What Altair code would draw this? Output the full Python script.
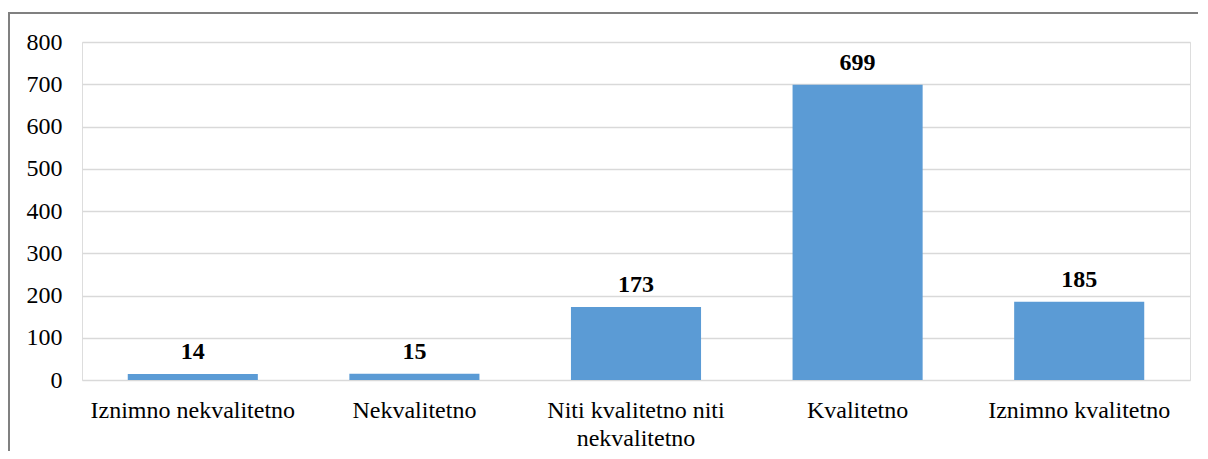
import altair as alt
import pandas as pd

categories = ["Iznimno nekvalitetno", "Nekvalitetno", "Niti kvalitetno niti nekvalitetno", "Kvalitetno", "Iznimno kvalitetno"]
values = [14, 15, 173, 699, 185]
y_ticks = [0, 100, 200, 300, 400, 500, 600, 700, 800]

df = pd.DataFrame({"cat": categories, "val": values})

FONT = "Liberation Serif, Times New Roman, DejaVu Serif, serif"
FS = 24
W, H = 1108, 338

x_enc = alt.X("cat:N", sort=categories, title=None,
              scale=alt.Scale(paddingInner=0.413, paddingOuter=0.2065),
              axis=alt.Axis(labelAngle=0, ticks=False, domain=False, labelFont=FONT,
                            labelFontSize=FS, labelColor="#000000", labelPadding=18,
                            labelLineHeight=28, labelLimit=400,
                            labelExpr="datum.label == 'Niti kvalitetno niti nekvalitetno' ? ['Niti kvalitetno niti', 'nekvalitetno'] : datum.label"))
y_enc = alt.Y("val:Q", title=None,
              scale=alt.Scale(domain=[0, 800], nice=False),
              axis=alt.Axis(values=y_ticks, ticks=False, domain=False, labelFont=FONT,
                            labelFontSize=FS, labelColor="#000000", labelPadding=20,
                            gridColor="#d9d9d9", gridWidth=1.5))

one = pd.DataFrame({"a": [0]})
frame_top = alt.Chart(one).mark_rule(color="#808080", strokeWidth=2).encode(
    x=alt.value(-73), x2=alt.value(W + 8), y=alt.value(-29))
frame_left = alt.Chart(one).mark_rule(color="#808080", strokeWidth=2).encode(
    x=alt.value(-73), y=alt.value(-30), y2=alt.value(H + 120))

bars = alt.Chart(df).mark_bar(color="#5B9BD5").encode(x=x_enc, y=y_enc)
labels = alt.Chart(df).mark_text(font=FONT, fontSize=FS, fontWeight="bold", color="#000000",
                                 baseline="alphabetic", dy=-15).encode(
    x=alt.X("cat:N", sort=categories), y=alt.Y("val:Q"), text=alt.Text("val:Q"))

chart = alt.layer(bars, labels, frame_top, frame_left).properties(
    width=W, height=H,
    padding={"left": 74, "top": 34, "right": 10, "bottom": 71},
    autosize=alt.AutoSizeParams(type="none"),
).configure_view(stroke=None).configure(background="white")

chart.save("out.html", embed_options={"renderer": "svg", "actions": False})
